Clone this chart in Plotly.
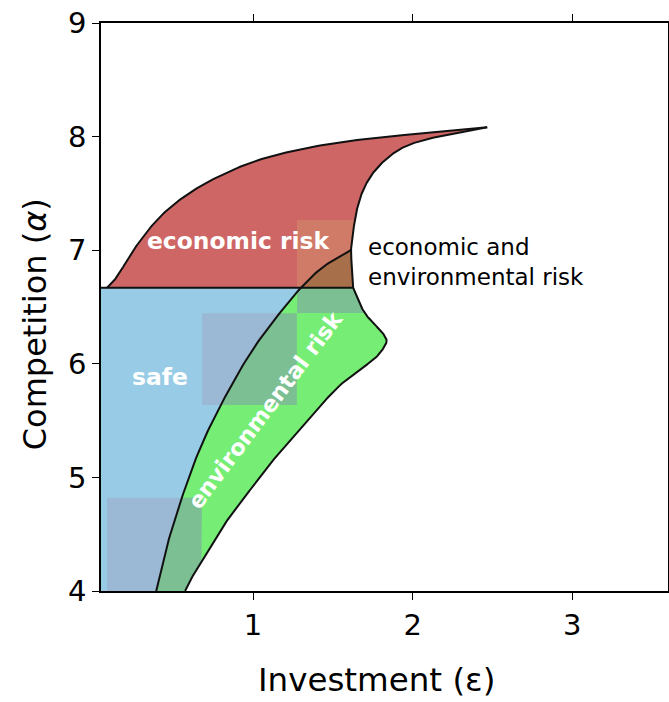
import numpy as np
import plotly.graph_objects as go

# ---- data (data units) ----
upper_x = [0.085, 0.122, 0.166, 0.216, 0.273, 0.354, 0.448, 0.574, 0.730, 0.981, 1.276, 1.652, 2.066, 2.467]
upper_y = [6.67, 6.720, 6.808, 6.923, 7.046, 7.196, 7.336, 7.477, 7.610, 7.768, 7.882, 7.970, 8.029, 8.082]

right_upper_x = [2.467, 2.235, 2.047, 1.922, 1.828, 1.752, 1.696, 1.658, 1.633, 1.614, 1.621, 1.627]
right_upper_y = [8.082, 8.023, 7.961, 7.891, 7.794, 7.680, 7.548, 7.398, 7.222, 7.002, 6.826, 6.67]

right_lower_x = [1.627, 1.658, 1.696, 1.746, 1.796, 1.828, 1.834, 1.784, 1.702, 1.596, 1.483, 1.357,
                 1.232, 1.107, 0.981, 0.856, 0.743, 0.643, 0.574]
right_lower_y = [6.67, 6.562, 6.456, 6.368, 6.298, 6.236, 6.183, 6.077, 5.981, 5.875, 5.725, 5.523,
                 5.329, 5.118, 4.889, 4.660, 4.405, 4.185, 4.0]

left_x = [0.393, 0.459, 0.563, 0.675, 0.814, 0.981, 1.149, 1.30, 1.441, 1.614]
left_y = [4.0, 4.39, 4.86, 5.28, 5.68, 6.09, 6.415, 6.67, 6.855, 7.002]

safe_top = 6.67
x_min, x_max = 0.047, 3.6
y_min, y_max = 4.0, 9.0

# coarse cells [x0, x1, y0, y1]
cells = [
    [0.085, 0.68, 4.0, 4.82],
    [0.681, 1.274, 5.637, 6.445],
    [1.275, 1.87, 6.447, 7.266],
]

x_ticks = [1, 2, 3]
y_ticks = [4, 5, 6, 7, 8, 9]

RED = '#CF6666'
BLUE = '#98CCE6'
GREEN = '#76EE76'
BROWN = '#A8704A'
BLUE_OV = '#9BB8D4'
GREEN_OV = '#7BBF93'
RED_OV = '#CF7B67'
EDGE = '#111111'


def smooth(xs, ys, n=14):
    """Catmull-Rom densification through the read points."""
    p = np.column_stack([xs, ys]).astype(float)
    p = np.vstack([2 * p[0] - p[1], p, 2 * p[-1] - p[-2]])
    out = []
    for i in range(1, len(p) - 2):
        p0, p1, p2, p3 = p[i - 1], p[i], p[i + 1], p[i + 2]
        for t in np.linspace(0, 1, n, endpoint=False):
            t2, t3 = t * t, t * t * t
            pt = 0.5 * ((2 * p1) + (-p0 + p2) * t + (2 * p0 - 5 * p1 + 4 * p2 - p3) * t2
                        + (-p0 + 3 * p1 - 3 * p2 + p3) * t3)
            out.append(pt)
    out.append(p[-2])
    out = np.array(out)
    return out[:, 0], out[:, 1]


ux, uy = smooth(upper_x, upper_y)
rux, ruy = smooth(right_upper_x, right_upper_y)
rlx, rly = smooth(right_lower_x, right_lower_y)
lx, ly = smooth(left_x, left_y)
low = ly <= safe_top + 1e-9


def f_of_y(xs, ys):
    o = np.argsort(ys)
    yy, xx = np.asarray(ys)[o], np.asarray(xs)[o]
    return lambda y: np.interp(y, yy, xx)


L = f_of_y(lx, ly)
RL = f_of_y(rlx, rly)
RU = f_of_y(rux, ruy)
U = f_of_y(ux, uy)
junction_y = left_y[-1]
safe_right = left_x[left_y.index(safe_top)]


def piece(y0, y1, lf, rf, n=80):
    ys = np.linspace(y0, y1, n)
    a = np.array([lf(y) for y in ys])
    b = np.array([rf(y) for y in ys])
    b = np.maximum(a, b)
    px = np.concatenate([a, b[::-1], a[:1]])
    py = np.concatenate([ys, ys[::-1], ys[:1]])
    return px, py


fig = go.Figure()


def fill(px, py, color):
    fig.add_trace(go.Scatter(x=px, y=py, mode='lines', fill='toself', fillcolor=color,
                             line=dict(width=0, color=color), hoverinfo='skip', showlegend=False))


# blue (safe)
llx, lly = lx[low], ly[low]
fill(np.concatenate([[x_min, x_min, safe_right], llx[::-1], [x_min]]),
     np.concatenate([[y_min, safe_top, safe_top], lly[::-1], [y_min]]), BLUE)
# green (environmental risk)
fill(np.concatenate([llx, rlx, [llx[0]]]), np.concatenate([lly, rly, [lly[0]]]), GREEN)
# red (economic risk)
fill(np.concatenate([ux, rux, [ux[0]]]), np.concatenate([uy, ruy, [uy[0]]]), RED)
# brown (both)
lux, luy = lx[~low], ly[~low]
m = ruy <= junction_y
fill(np.concatenate([[safe_right], lux, rux[m], [safe_right]]),
     np.concatenate([[safe_top], luy, ruy[m], [safe_top]]), BROWN)

# coarse cell tints, clipped to the regions
for (cx0, cx1, cy0, cy1) in cells:
    yb0, yb1 = cy0, min(cy1, safe_top)
    if yb1 > yb0:
        px, py = piece(yb0, yb1, lambda y: cx0, lambda y: min(cx1, L(y)))
        fill(px, py, BLUE_OV)
        px, py = piece(yb0, yb1, lambda y: max(cx0, L(y)), lambda y: min(cx1, RL(y)))
        fill(px, py, GREEN_OV)
    yr0, yr1 = max(cy0, safe_top), cy1
    if yr1 > yr0:
        px, py = piece(yr0, yr1, lambda y: max(cx0, U(y)),
                       lambda y: min(cx1, L(y) if y <= junction_y else RU(y)))
        fill(px, py, RED_OV)


def edge(px, py, width=2):
    fig.add_trace(go.Scatter(x=px, y=py, mode='lines', line=dict(color=EDGE, width=width),
                             hoverinfo='skip', showlegend=False))


edge(ux, uy)
edge(np.concatenate([rux, rlx]), np.concatenate([ruy, rly]))
edge(lx, ly)
edge([x_min, right_upper_x[-1]], [safe_top, safe_top])

font_fam = 'DejaVu Sans'
ann = [
    dict(x=0.906, y=7.081, text='<b>economic risk</b>', font=dict(size=23.4, color='white', family=font_fam),
         showarrow=False),
    dict(x=0.418, y=5.884, text='<b>safe</b>', font=dict(size=23.4, color='white', family=font_fam),
         showarrow=False),
    dict(x=1.075, y=5.593, text='<b>environmental risk</b>', textangle=-53,
         font=dict(size=22.5, color='white', family=font_fam), showarrow=False),
    dict(x=1.708, y=6.892, text='economic and<br>environmental risk', xanchor='left', align='left',
         font=dict(size=23, color='black', family=font_fam), showarrow=False),
    # axis titles
    dict(x=0.486, y=-0.1567, xref='paper', yref='paper', text='Investment (ε)', showarrow=False,
         xanchor='center', yanchor='middle', font=dict(size=32.5, color='black', family=font_fam)),
    dict(x=-0.116, y=0.47, xref='paper', yref='paper', text='Competition (<i>α</i>)', showarrow=False,
         textangle=-90, xanchor='center', yanchor='middle',
         font=dict(size=32, color='black', family=font_fam)),
]

axis_common = dict(showgrid=False, zeroline=False, showline=True, linecolor='black', linewidth=1.5,
                   mirror='ticks', ticks='outside', ticklen=7, tickwidth=1.2, tickcolor='black',
                   automargin=False, ticklabeloverflow='allow',
                   tickfont=dict(size=29, color='black', family=font_fam))

fig.update_layout(
    width=669, height=702,
    margin=dict(l=101, r=1, t=23, b=111, autoexpand=False),
    paper_bgcolor='white', plot_bgcolor='white',
    annotations=ann,
    xaxis=dict(range=[x_min, x_max], tickvals=x_ticks, ticktext=[str(v) for v in x_ticks], **axis_common),
    yaxis=dict(range=[y_min, y_max], tickvals=y_ticks, ticktext=[str(v) for v in y_ticks], **axis_common),
)

fig.write_html('out.html', config={'displayModeBar': False},
               post_script="document.body.style.margin='0';")
